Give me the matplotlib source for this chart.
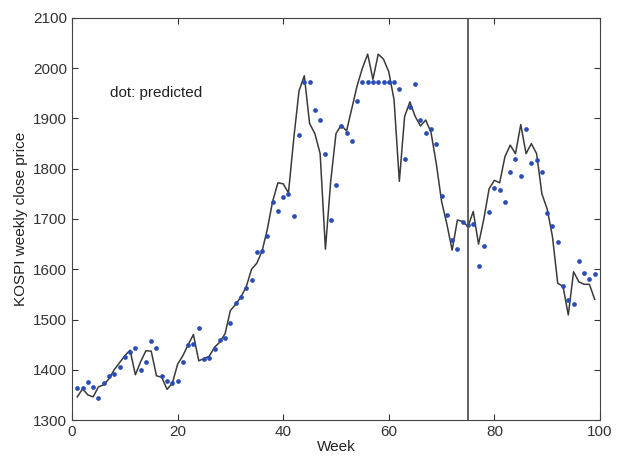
import matplotlib
matplotlib.use("Agg")
import matplotlib.pyplot as plt
import numpy as np

plt.rcParams['font.family'] = ['Liberation Sans', 'DejaVu Sans']

weeks = np.arange(1, 100)

# actual weekly close
actual = [1346, 1362, 1350, 1346, 1366, 1370, 1382, 1400, 1414, 1428,
          1439, 1390, 1416, 1438, 1437, 1388, 1385, 1361, 1373, 1411,
          1428, 1450, 1470, 1418, 1422, 1427, 1445, 1455, 1472, 1518,
          1530, 1545, 1565, 1600, 1612, 1636, 1680, 1735, 1772, 1770,
          1752, 1860, 1955, 1985, 1890, 1870, 1830, 1640, 1775, 1870,
          1887, 1875, 1920, 1965, 2000, 2028, 1978, 2028, 2018, 1993,
          1937, 1775, 1904, 1933, 1904, 1885, 1897, 1872, 1810, 1735,
          1690, 1638, 1698, 1695, 1685, 1715, 1650, 1700, 1760, 1777,
          1772, 1824, 1847, 1830, 1888, 1830, 1850, 1830, 1750, 1720,
          1665, 1572, 1566, 1509, 1595, 1575, 1570, 1570, 1540]

# model output
predicted = [1364, 1364, 1376, 1365, 1344, 1374, 1387, 1392, 1405, 1425,
             1435, 1443, 1399, 1416, 1457, 1443, 1388, 1378, 1374, 1378,
             1415, 1449, 1452, 1484, 1422, 1424, 1441, 1459, 1464, 1494,
             1533, 1545, 1562, 1578, 1635, 1636, 1667, 1733, 1716, 1743,
             1749, 1705, 1868, 1972, 1972, 1917, 1897, 1829, 1698, 1767,
             1886, 1872, 1855, 1935, 1972, 1972, 1972, 1972, 1972, 1972,
             1972, 1958, 1819, 1922, 1968, 1896, 1872, 1880, 1849, 1746,
             1707, 1658, 1640, 1695, 1689, 1691, 1607, 1647, 1714, 1762,
             1758, 1734, 1793, 1820, 1785, 1880, 1811, 1818, 1793, 1711,
             1686, 1655, 1566, 1539, 1530, 1617, 1592, 1581, 1590]

split_week = 75

fig = plt.figure(figsize=(6.17, 4.61), dpi=100)
ax = fig.add_axes([0.1167, 0.0889, 0.8557, 0.8721])

ax.plot(weeks, actual, color='#3a3a3a', linewidth=1.1)
ax.plot(weeks, predicted, linestyle='none', marker='o', markersize=3.4,
        color='#2a4cb5', markeredgewidth=0)
ax.axvline(split_week, color='#555555', linewidth=1.3)

ax.text(7.2, 1951, 'dot: predicted', fontsize=11, color='#222222',
        va='center')

ax.set_xlim(0, 100)
ax.set_ylim(1300, 2100)
ax.set_xticks(np.arange(0, 101, 20))
ax.set_yticks(np.arange(1300, 2101, 100))
ax.tick_params(direction='in', top=True, right=True, labelsize=11,
               colors='#333333', length=4)
for s in ax.spines.values():
    s.set_color('#444444')
ax.set_xlabel('Week', fontsize=11, color='#222222', labelpad=1)
ax.set_ylabel('KOSPI weekly close price', fontsize=11, color='#222222')

fig.savefig('out.png', dpi=100)
